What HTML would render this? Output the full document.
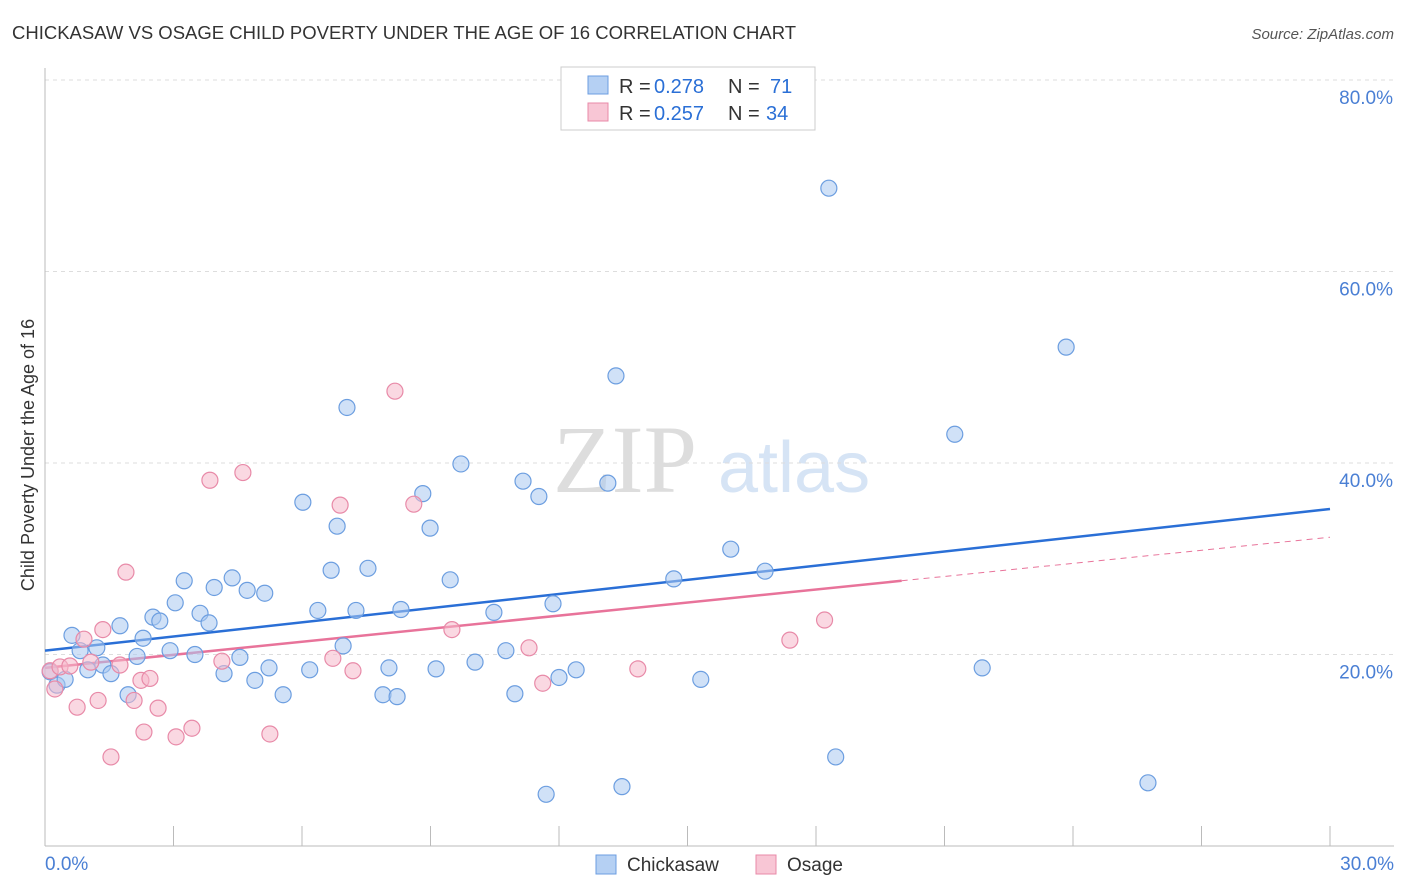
<!DOCTYPE html>
<html><head><meta charset="utf-8"><style>
body{margin:0;background:#fff;font-family:"Liberation Sans",sans-serif;}
svg{display:block}
</style></head><body>
<svg width="1406" height="892" id="chart">
<text x="12" y="39" font-size="18.5" fill="#333">CHICKASAW VS OSAGE CHILD POVERTY UNDER THE AGE OF 16 CORRELATION CHART</text>
<text x="1394" y="39" font-size="15" fill="#555" font-style="italic" text-anchor="end">Source: ZipAtlas.com</text>
<text x="553" y="492" font-size="96" fill="#ddd" font-family="Liberation Serif,serif">ZIP</text>
<text x="718" y="492" font-size="72" fill="#d6e4f5">atlas</text>
<text transform="translate(34,455) rotate(-90)" font-size="18" fill="#333" text-anchor="middle">Child Poverty Under the Age of 16</text>
<g id="grid"></g><g id="ticks"></g><g id="lines"></g><g id="pts"></g>
<g>
<rect x="561" y="67" width="254" height="63" fill="#fff" stroke="#ccc"/>
<rect x="588" y="76" width="20" height="18" fill="#b5d0f3" stroke="#6c9ee0"/>
<rect x="588" y="103" width="20" height="18" fill="#f8c6d5" stroke="#e88aa8"/>
<g font-size="20" fill="#333">
<text x="619" y="93">R = </text><text x="654" y="93" fill="#2a6fd6">0.278</text><text x="728" y="93">N =</text><text x="770" y="93" fill="#2a6fd6">71</text></g>
<g font-size="20" fill="#333">
<text x="619" y="120">R = </text><text x="654" y="120" fill="#2a6fd6">0.257</text><text x="728" y="120">N =</text><text x="766" y="120" fill="#2a6fd6">34</text></g>
</g>
<rect x="596" y="855" width="20" height="19" fill="#b5d0f3" stroke="#6c9ee0"/>
<text x="627" y="871" font-size="19" fill="#333">Chickasaw</text>
<rect x="756" y="855" width="20" height="19" fill="#f8c6d5" stroke="#e88aa8"/>
<text x="787" y="871" font-size="19" fill="#333">Osage</text>
</svg>
<script>
const yTicks=[20,40,60,80];
const xTickLabels=["0.0%","30.0%"];
const blueX=[0.12,0.28,0.47,0.63,0.82,1.0,1.21,1.35,1.54,1.75,1.94,2.15,2.29,2.52,2.68,2.92,3.04,3.25,3.5,3.62,3.83,3.95,4.18,4.37,4.55,4.72,4.9,5.13,5.23,5.56,6.02,6.18,6.37,6.68,6.82,6.96,7.05,7.26,7.54,7.89,8.03,8.22,8.31,8.99,8.82,9.13,9.46,9.71,10.04,10.48,10.76,10.97,11.16,11.53,11.7,11.86,12.0,12.4,13.14,13.33,13.47,14.68,15.31,16.01,16.81,18.3,18.46,21.24,21.88,23.84,25.75];
const blueY=[18.2,16.8,17.4,22.0,20.4,18.4,20.7,18.9,18.0,23.0,15.8,19.8,21.7,23.9,23.5,20.4,25.4,27.7,20.0,24.3,23.3,27.0,18.0,28.0,19.7,26.7,17.3,26.4,18.6,15.8,35.9,18.4,24.6,28.8,33.4,20.9,45.8,24.6,29.0,15.8,18.6,15.6,24.7,33.2,36.8,18.5,27.8,39.9,19.2,24.4,20.4,15.9,38.1,36.5,5.4,25.3,17.6,18.4,37.9,49.1,6.2,27.9,17.4,31.0,28.7,68.7,9.3,43.0,18.6,52.1,6.6];
const pinkX=[0.12,0.23,0.35,0.58,0.75,0.91,1.07,1.24,1.35,1.54,1.75,1.89,2.08,2.24,2.31,2.45,2.64,3.06,3.43,3.85,4.13,4.62,5.25,6.72,6.89,7.19,8.17,8.61,9.5,11.3,11.62,13.84,17.39,18.2];
const pinkY=[18.3,16.4,18.7,18.8,14.5,21.6,19.2,15.2,22.6,9.3,18.9,28.6,15.2,17.3,11.9,17.5,14.4,11.4,12.3,38.2,19.3,39.0,11.7,19.6,35.6,18.3,47.5,35.7,22.6,20.7,17.0,18.5,21.5,23.6];
const blueLine=[20.4,35.2], pinkLine=[18.6,27.7], pinkEndX=20;
const ns="http://www.w3.org/2000/svg";
const X=v=>45+v/30*1285, Y=v=>846-v/20*191.5;
function mk(t,a,p){const e=document.createElementNS(ns,t);for(const k in a)e.setAttribute(k,a[k]);document.getElementById(p).appendChild(e);return e;}
yTicks.forEach(t=>{
 const g=mk('line',{x1:45,x2:1394,y1:Y(t),y2:Y(t),stroke:'#ddd','stroke-dasharray':'4,4'},'grid');
 
 
 const l=mk('text',{x:1393,y:Y(t)+24,'font-size':19,fill:'#4a7fd4','text-anchor':'end'},'ticks');
 l.textContent=t.toFixed(1)+'%';
 
 
});
const ax=mk('line',{x1:45,x2:1394,y1:846,y2:846,stroke:'#bbb'},'ticks');


const ay=mk('line',{x1:45,x2:45,y1:68,y2:846,stroke:'#bbb'},'ticks');


for(let i=0;i<=10;i++){const t=mk('line',{x1:X(i*3),x2:X(i*3),y1:826,y2:846,stroke:'#bbb'},'ticks');
 
 }
[[0,'start',45],[30,'end',1394]].forEach((d,i)=>{const l=mk('text',{x:d[2],y:870,'font-size':19,fill:'#4a7fd4','text-anchor':d[1]},'ticks');l.textContent=xTickLabels[i];
 
 });
function pts(xs,ys,f,s,nm){xs.forEach((x,i)=>{const c=mk('circle',{cx:X(x),cy:Y(ys[i]),r:8,fill:f,'fill-opacity':0.55,stroke:s,'stroke-width':1.2},'pts');
 
 });}
pts(blueX,blueY,'#a9c8f0','#6c9ee0','chickasaw-point');
pts(pinkX,pinkY,'#f5b8cb','#e88aa8','osage-point');
const bl=mk('line',{x1:X(0),y1:Y(blueLine[0]),x2:X(30),y2:Y(blueLine[1]),stroke:'#2a6fd6','stroke-width':2.5},'lines');


const sl=(pinkLine[1]-pinkLine[0])/pinkEndX;
const pl=mk('line',{x1:X(0),y1:Y(pinkLine[0]),x2:X(pinkEndX),y2:Y(pinkLine[1]),stroke:'#e8739a','stroke-width':2.5},'lines');


const pd=mk('line',{x1:X(pinkEndX),y1:Y(pinkLine[1]),x2:X(30),y2:Y(pinkLine[0]+sl*30),stroke:'#e8739a','stroke-width':1,'stroke-dasharray':'6,5'},'lines');


</script>
</body></html>
